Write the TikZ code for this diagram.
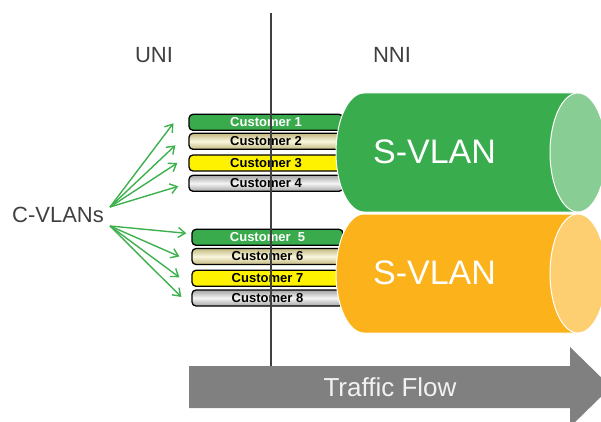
\documentclass[tikz,border=0pt]{standalone}
\usepackage{fontspec}
\setmainfont{Liberation Sans}
\usetikzlibrary{arrows.meta}
\definecolor{svgreen}{HTML}{39AD4D}
\definecolor{svgreenlt}{HTML}{88CD94}
\definecolor{svorange}{HTML}{FBB21B}
\definecolor{svorangelt}{HTML}{FDCF70}
\definecolor{custgreen}{HTML}{3AAB4C}
\definecolor{creamdk}{HTML}{C2B880}
\definecolor{creamlt}{HTML}{FAF7DE}
\definecolor{fangreen}{HTML}{3DB14D}
\definecolor{labgray}{HTML}{404040}
\definecolor{flowgray}{HTML}{808080}
\begin{document}
\begin{tikzpicture}[x=1pt,y=-1pt,
 cust/.style={draw=black,line width=1.3pt,rounded corners=4pt,minimum height=16pt,inner sep=0pt,font=\bfseries\fontsize{13}{13}\selectfont},
 cgreen/.style={fill=custgreen},
 ccream/.style={top color=creamdk,bottom color=creamdk,middle color=creamlt},
 cyellow/.style={fill=yellow},
 cgray/.style={top color=black!35,bottom color=black!35,middle color=black!4},
 fan/.style={-{Straight Barb[length=7pt,width=10pt]},line width=1.4pt,draw=fangreen},
 lab/.style={text=labgray,font=\fontsize{22}{22}\selectfont},
 svlan/.style={text=white,font=\fontsize{34}{34}\selectfont}]
\useasboundingbox (0,0) rectangle (601,422);

\foreach \i/\xx/\yy/\ww/\st/\tc/\txt in {1/266/122.3/154/cgreen/white/{Customer 1},2/266/141.3/154/ccream/black/{Customer 2},3/266/163/154/cyellow/black/{Customer 3},4/266/183.3/154/cgray/black/{Customer 4},5/267.5/237.3/151/cgreen/white/{Customer\ \ 5},6/267.5/256.5/151/ccream/black/{Customer 6},7/267.5/278.3/151/cyellow/black/{Customer 7},8/267.5/298/151/cgray/black/{Customer 8}}
\node[cust,\st,text=\tc,minimum width=\ww pt] (c\i) at (\xx,\yy) {\txt};

\coordinate (ltop) at (271,13);
\coordinate (lbot) at (271,367);
\draw[labgray,line width=1.2pt] (ltop)--(lbot);

\foreach \cy/\cbody/\cend in {152.5/svgreen/svgreenlt,273.5/svorange/svorangelt}{
\filldraw[fill=\cbody,draw=white,line width=1pt] (364,\cy-59.5)--(578,\cy-59.5) arc[start angle=-90,end angle=90,x radius=28,y radius=59.5]--(364,\cy+59.5) arc[start angle=90,end angle=270,x radius=28,y radius=59.5]--cycle;
\filldraw[fill=\cend,draw=white,line width=1pt] (578,\cy) ellipse[x radius=28,y radius=59.5];
}
\node[svlan] (sv1) at (434.5,152) {S-VLAN};
\node[svlan] (sv2) at (434.5,273) {S-VLAN};

\node[lab] (uni) at (154,55) {UNI};
\node[lab] (nni) at (392,55) {NNI};
\node[lab] (cvlan) at (58,215) {C-VLANs};

\coordinate (fanup) at (110,207);
\coordinate (fandn) at (110,226);
\foreach \i/\sx/\sy in {1/-15/1,2/-13/4,3/-11/0,4/-10/3}
\draw[fan] (fanup)--([shift={(\sx,\sy)}]c\i.west);
\foreach \i/\sx/\sy in {5/-5/-4,6/-12/0,7/-12/-1,8/-10/-1}
\draw[fan] (fandn)--([shift={(\sx,\sy)}]c\i.west);

\fill[flowgray] (189,366)--(570,366)--(570,347)--(611,387)--(570,427)--(570,408)--(189,408)--cycle;
\node[text=black!5,font=\fontsize{26}{26}\selectfont] (flow) at (390,387) {Traffic Flow};

\end{tikzpicture}
\end{document}
